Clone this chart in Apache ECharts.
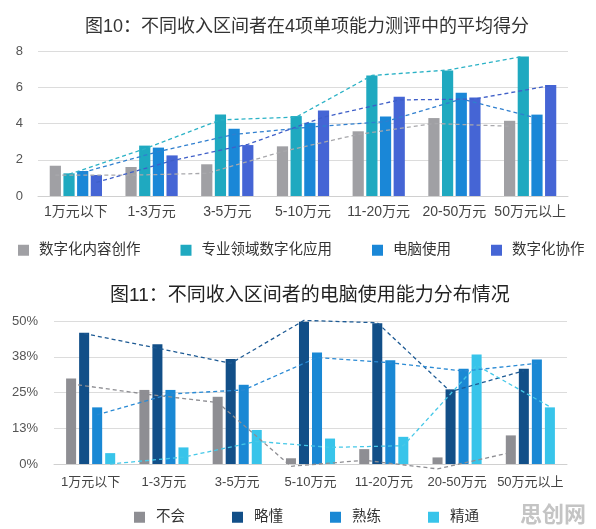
<!DOCTYPE html>
<html>
<head>
<meta charset="utf-8">
<script src="https://cdn.jsdelivr.net/npm/echarts@6/dist/echarts.min.js"></script>
<style>
  html, body { margin: 0; padding: 0; background: #fff; }
  #main { width: 596px; height: 529px; }
</style>
</head>
<body>
<div id="main"></div>
<script>
// 收入区间
var cats = ['1万元以下', '1-3万元', '3-5万元', '5-10万元', '11-20万元', '20-50万元', '50万元以上'];

// 图10 平均得分
var names1 = ['数字化内容创作', '专业领域数字化应用', '电脑使用', '数字化协作'];
var creation = [1.67, 1.60, 1.75, 2.74, 3.57, 4.30, 4.15];
var professional = [1.25, 2.78, 4.50, 4.41, 6.65, 6.93, 7.70];
var computer = [1.38, 2.67, 3.71, 4.04, 4.38, 5.70, 4.49];
var collab = [1.16, 2.24, 2.81, 4.72, 5.48, 5.44, 6.12];
// 图10 虚线（趋势线）
var creationLine = [1.15, 1.15, 1.25, 2.45, 3.4, 4.0, 3.85];
var professionalLine = [1.2, 2.6, 4.2, 4.35, 6.65, 6.95, 7.7];
var computerLine = [1.3, 2.45, 3.4, 3.8, 4.1, 5.35, 4.3];
var collabLine = [0.75, 1.95, 2.85, 4.35, 5.3, 5.35, 6.1];
var yTicks1 = [0, 2, 4, 6, 8];

// 图11 电脑使用能力分布 (%)
var names2 = ['不会', '略懂', '熟练', '精通'];
var none = [29.9, 25.9, 23.5, 2.0, 5.2, 2.3, 10.0];
var basic = [45.9, 41.9, 36.7, 49.7, 49.2, 26.1, 33.3];
var skilled = [19.8, 25.9, 27.7, 39.0, 36.3, 33.3, 36.5];
var expert = [3.8, 5.8, 11.9, 8.9, 9.5, 38.3, 19.8];
// 图11 虚线
var noneLine = [28, 24.5, 21.5, -0.8, 1.3, -1.7, 4.0];
var basicLine = [45.6, 40.5, 35.2, 50.2, 49.4, 25.3, 32.6];
var skilledLine = [17.2, 24.5, 25.9, 37.2, 35.4, 32.5, 35.2];
var expertLine = [0, 2.4, 7.9, 5.8, 6.4, 34.5, 20];
var yTicks2 = [0, 12.5, 25, 37.5, 50];

var colors1 = ['#a0a0a4', '#1fa9c0', '#1a87d7', '#4565d5'];
var lineColors1 = ['#a8a8ac', '#2bb2c6', '#2f7fcf', '#3f5fc8'];
var colors2 = ['#8e8e93', '#124f88', '#1a88d4', '#38c4ea'];
var lineColors2 = ['#8e8e93', '#1d5a94', '#2a8ad4', '#45c8e8'];

var font = "'Liberation Sans', 'Noto Sans CJK SC', sans-serif";

// bar centre offsets inside a category (in category units)
function offsets(catGap, barGap) {
  var w = (1 - catGap) / (4 + 3 * barGap);
  var step = w * (1 + barGap);
  return [0, 1, 2, 3].map(function (s) { return (s - 1.5) * step; });
}
var off1 = offsets(0.31, 0.22);
var off2 = offsets(0.33, 0.30);

function bar(name, data, color, xi, yi, cg, bg) {
  return {
    name: name, type: 'bar', data: data, xAxisIndex: xi, yAxisIndex: yi,
    barCategoryGap: cg, barGap: bg, itemStyle: { color: color }, z: 2
  };
}
function dash(data, off, color, xi, yi) {
  return {
    type: 'line', xAxisIndex: xi, yAxisIndex: yi, symbol: 'none', silent: true,
    clip: false, z: 5,
    data: data.map(function (v, i) { return [i + off, v]; }),
    lineStyle: { color: color, width: 1.3, type: [4, 3] }
  };
}

var bars1 = [creation, professional, computer, collab];
var lines1 = [creationLine, professionalLine, computerLine, collabLine];
var bars2 = [none, basic, skilled, expert];
var lines2 = [noneLine, basicLine, skilledLine, expertLine];

var series = [];
for (var i = 0; i < 4; i++) {
  series.push(bar(names1[i], bars1[i], colors1[i], 0, 0, '31%', '22%'));
}
for (var i = 0; i < 4; i++) {
  series.push(bar(names2[i], bars2[i], colors2[i], 2, 1, '33%', '30%'));
}
for (var i = 0; i < 4; i++) {
  series.push(dash(lines1[i], off1[i], lineColors1[i], 1, 0));
  series.push(dash(lines2[i], off2[i], lineColors2[i], 3, 1));
}

var chart = echarts.init(document.getElementById('main'));
chart.setOption({
  backgroundColor: '#fff',
  animation: false,
  textStyle: { fontFamily: font },
  title: [
    { text: '图10：不同收入区间者在4项单项能力测评中的平均得分', left: 80, top: 13,
      textStyle: { fontSize: 18, fontWeight: 'normal', color: '#333', fontFamily: font } },
    { text: '图11：不同收入区间者的电脑使用能力分布情况', left: 105, top: 281,
      textStyle: { fontSize: 19, fontWeight: 'normal', color: '#222', fontFamily: font } }
  ],
  legend: [
    { data: names1, left: 13, top: 238, itemWidth: 11, itemHeight: 11, itemGap: 40,
      icon: 'rect',
      textStyle: { fontSize: 14.5, color: '#333', padding: [0, 0, 0, 5], fontFamily: font } },
    { data: names2, left: 129, top: 505, itemWidth: 11, itemHeight: 11, itemGap: 47,
      icon: 'rect',
      textStyle: { fontSize: 14.5, color: '#333', padding: [0, 0, 0, 6], fontFamily: font } }
  ],
  grid: [
    { left: 38, right: 28, top: 51, height: 145 },
    { left: 54, right: 29, top: 321, height: 143 }
  ],
  xAxis: [
    { type: 'category', data: cats, gridIndex: 0,
      axisTick: { show: false },
      axisLine: { lineStyle: { color: '#d0d0d0' } },
      axisLabel: { fontSize: 14, color: '#444', margin: 9, interval: 0 } },
    { type: 'value', gridIndex: 0, min: -0.5, max: 6.5, show: false },
    { type: 'category', data: cats, gridIndex: 1,
      axisTick: { show: false },
      axisLine: { lineStyle: { color: '#d0d0d0' } },
      axisLabel: { fontSize: 13, color: '#444', margin: 12, interval: 0 } },
    { type: 'value', gridIndex: 1, min: -0.5, max: 6.5, show: false }
  ],
  yAxis: [
    { type: 'value', gridIndex: 0, min: yTicks1[0], max: yTicks1[yTicks1.length - 1], interval: 2,
      axisLine: { show: false }, axisTick: { show: false },
      axisLabel: { fontSize: 13, color: '#555', margin: 15 },
      splitLine: { lineStyle: { color: '#dcdcdc' } } },
    { type: 'value', gridIndex: 1, min: yTicks2[0], max: yTicks2[yTicks2.length - 1], interval: 12.5,
      axisLine: { show: false }, axisTick: { show: false },
      axisLabel: { fontSize: 13, color: '#555', margin: 16,
        formatter: function (v) { return Math.round(v) + '%'; } },
      splitLine: { lineStyle: { color: '#dcdcdc' } } }
  ],
  graphic: [
    { type: 'text', right: 10, bottom: 2,
      style: { text: '思创网', fontSize: 22, fontWeight: 'bold', fill: '#c4c4c4', fontFamily: font } }
  ],
  series: series
});
</script>
</body>
</html>
